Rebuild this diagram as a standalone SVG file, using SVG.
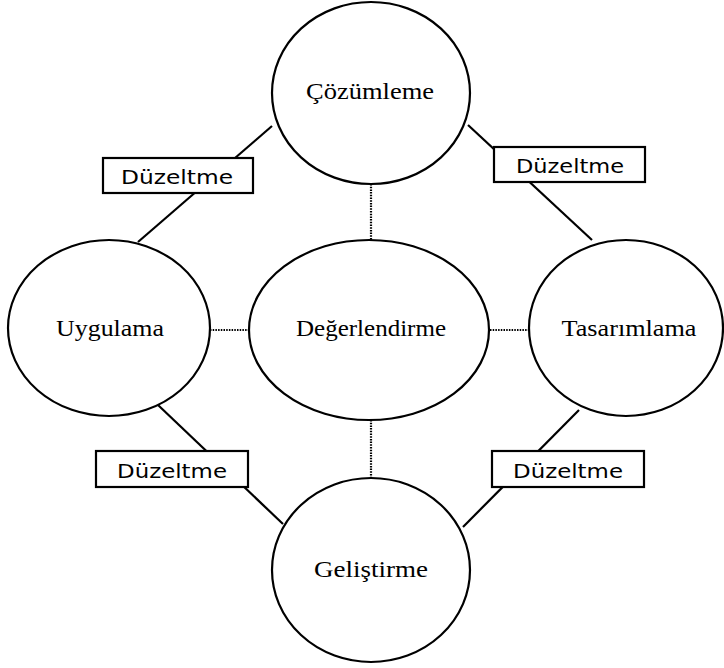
<svg xmlns="http://www.w3.org/2000/svg" width="724" height="668" viewBox="0 0 724 668">
<style>
.node ellipse{fill:#fff;stroke:#000;stroke-width:2.2}
.lbl{font-family:"Liberation Serif","Times New Roman",serif;font-size:23px;fill:#000;text-anchor:middle}
.box rect{fill:#fff;stroke:#000;stroke-width:2.2}
.box text{font-family:"DejaVu Sans","Verdana",sans-serif;font-size:19px;fill:#000;text-anchor:middle}
.solid{stroke:#000;stroke-width:2.2;fill:none}
.dot{stroke:#000;stroke-width:2.2;stroke-dasharray:1.5 1.2;fill:none}
</style>
<g id="connectors">
<line class="solid" x1="272" y1="126" x2="138" y2="242"/>
<line class="solid" x1="468" y1="125" x2="592" y2="240"/>
<line class="solid" x1="158" y1="405" x2="283" y2="524"/>
<line class="solid" x1="579" y1="410" x2="463" y2="527"/>
<line class="dot" x1="371" y1="184" x2="371" y2="240"/>
<line class="dot" x1="371" y1="420" x2="371" y2="478"/>
<line class="dot" x1="210" y1="330" x2="249" y2="330"/>
<line class="dot" x1="490" y1="330" x2="528" y2="330"/>
</g>
<g id="n-cozumleme" class="node"><ellipse cx="371" cy="93" rx="99" ry="91"/><text class="lbl" x="370" y="99" textLength="128" lengthAdjust="spacingAndGlyphs">Çözümleme</text></g>
<g id="n-uygulama" class="node"><ellipse cx="109" cy="328" rx="101" ry="88"/><text class="lbl" x="110" y="336" textLength="108" lengthAdjust="spacingAndGlyphs">Uygulama</text></g>
<g id="n-degerlendirme" class="node"><ellipse cx="369" cy="330" rx="120" ry="90"/><text class="lbl" x="371" y="336" textLength="150" lengthAdjust="spacingAndGlyphs">Değerlendirme</text></g>
<g id="n-tasarimlama" class="node"><ellipse cx="626" cy="328" rx="97" ry="88"/><text class="lbl" x="629" y="336" textLength="135" lengthAdjust="spacingAndGlyphs">Tasarımlama</text></g>
<g id="n-gelistirme" class="node"><ellipse cx="371" cy="570" rx="99" ry="92"/><text class="lbl" x="371" y="577" textLength="114" lengthAdjust="spacingAndGlyphs">Geliştirme</text></g>
<g id="b-tl" class="box"><rect x="103" y="158" width="150" height="35"/><text x="177" y="184" textLength="112" lengthAdjust="spacingAndGlyphs">Düzeltme</text></g>
<g id="b-tr" class="box"><rect x="494" y="147" width="151" height="35"/><text x="570" y="173" textLength="108" lengthAdjust="spacingAndGlyphs">Düzeltme</text></g>
<g id="b-bl" class="box"><rect x="96" y="451" width="152" height="36"/><text x="172" y="478" textLength="110" lengthAdjust="spacingAndGlyphs">Düzeltme</text></g>
<g id="b-br" class="box"><rect x="492" y="451" width="152" height="36"/><text x="568" y="478" textLength="110" lengthAdjust="spacingAndGlyphs">Düzeltme</text></g>
</svg>
